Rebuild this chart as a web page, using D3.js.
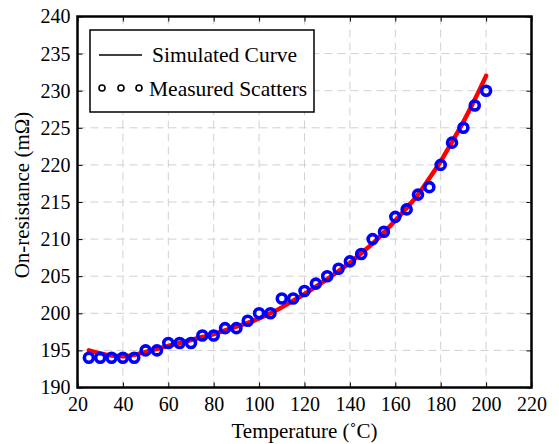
<!DOCTYPE html>
<html><head><meta charset="utf-8">
<script src="https://cdn.jsdelivr.net/npm/d3@7/dist/d3.min.js"></script>
<style>body{margin:0;background:#fff}svg{display:block}svg text{font-family:'Liberation Serif','Times New Roman',serif !important;fill:#000}</style>
</head><body><svg id="c" width="559" height="444"></svg>
<script>
const temps = [25,30,35,40,45,50,55,60,65,70,75,80,85,90,95,100,105,110,115,120,125,130,135,140,145,150,155,160,165,170,175,180,185,190,195,200];
const measured = [194,194,194,194,194,195,195,196,196,196,197,197,198,198,199,200,200,202,202,203,204,205,206,207,208,210,211,213,214,216,217,220,223,225,228,230];
const simulated = [195.0,194.6,194.3,194.2,194.4,194.8,195.2,195.6,196.0,196.4,196.8,197.2,197.7,198.2,198.7,199.3,200.0,200.8,201.7,202.6,203.6,204.6,205.7,206.8,208.1,209.4,210.9,212.5,214.2,216.0,218.2,220.5,223.1,225.8,228.8,232.0];
const xTicks = [20,40,60,80,100,120,140,160,180,200,220];
const yTicks = [190,195,200,205,210,215,220,225,230,235,240];
const legendLabels = ["Simulated Curve","Measured Scatters"];

const svg = d3.select("#c");
const L=77.5, R=531.5, T=16.5, B=387.5;
const x = d3.scaleLinear().domain([20,220]).range([L,R]);
const y = d3.scaleLinear().domain([190,240]).range([B,T]);

// grid
const g = svg.append("g");
g.selectAll("line.gx").data(xTicks.slice(1,-1)).enter().append("line")
 .attr("x1",d=>x(d)).attr("x2",d=>x(d)).attr("y1",T).attr("y2",B)
 .attr("stroke","#d0d0d0").attr("stroke-width",1).attr("stroke-dasharray","8,5");
g.selectAll("line.gy").data(yTicks.slice(1,-1)).enter().append("line")
 .attr("y1",d=>y(d)).attr("y2",d=>y(d)).attr("x1",L).attr("x2",R)
 .attr("stroke","#d0d0d0").attr("stroke-width",1).attr("stroke-dasharray","8,5");

// axes
const fs = "20px";
const xb = svg.append("g").attr("transform",`translate(0,${B})`).call(d3.axisBottom(x).tickValues(xTicks).tickSize(-5).tickPadding(9));
const xt = svg.append("g").attr("transform",`translate(0,${T})`).call(d3.axisTop(x).tickValues(xTicks).tickSize(-5).tickFormat(""));
const yl = svg.append("g").attr("transform",`translate(${L},0)`).call(d3.axisLeft(y).tickValues(yTicks).tickSize(-5).tickPadding(7));
const yr = svg.append("g").attr("transform",`translate(${R},0)`).call(d3.axisRight(y).tickValues(yTicks).tickSize(-5).tickFormat(""));
[xb,xt,yl,yr].forEach(a=>{
  a.attr("font-family",null).attr("font-size",null);
  a.select(".domain").remove();
  a.selectAll(".tick line").attr("stroke","#000").attr("stroke-width",1);
  a.selectAll("text").style("font-size",fs);
});
svg.append("rect").attr("x",L).attr("y",T).attr("width",R-L).attr("height",B-T)
 .attr("fill","none").attr("stroke","#000").attr("stroke-width",2.5);

// curve
const line = d3.line().x((d,i)=>x(temps[i])).y(d=>y(d)).curve(d3.curveMonotoneX);
svg.append("path").datum(simulated).attr("d",line).attr("fill","none")
 .attr("stroke","#ff0000").attr("stroke-width",4.5).attr("stroke-linecap","round");

// scatters
svg.selectAll("circle.m").data(measured).enter().append("circle")
 .attr("cx",(d,i)=>x(temps[i])).attr("cy",d=>y(d)).attr("r",4.5)
 .attr("fill","none").attr("stroke","#0000ff").attr("stroke-width",3.6);

// legend
const lg = svg.append("g");
lg.append("rect").attr("x",90).attr("y",30).attr("width",224).attr("height",82)
 .attr("fill","#fff").attr("stroke","#000").attr("stroke-width",1.5);
lg.append("line").attr("x1",99).attr("x2",142).attr("y1",55).attr("y2",55).attr("stroke","#000").attr("stroke-width",1.5);
lg.selectAll("circle").data([102,121,139]).enter().append("circle")
 .attr("cx",d=>d).attr("cy",88).attr("r",3).attr("fill","none").attr("stroke","#000").attr("stroke-width",1.6);
lg.selectAll("text").data(legendLabels).enter().append("text")
 .attr("x",(d,i)=>i?149:152).attr("y",(d,i)=>i?96:62).style("font-size","21.5px").text(d=>d);

// titles
svg.append("text").attr("x",(L+R)/2).attr("y",438).attr("text-anchor","middle").style("font-size","21px").text("Temperature (˚C)");
svg.append("text").attr("transform",`translate(29,${(T+B)/2 - 7}) rotate(-90)`).attr("text-anchor","middle").style("font-size","21px").text("On-resistance (mΩ)");
</script></body></html>
